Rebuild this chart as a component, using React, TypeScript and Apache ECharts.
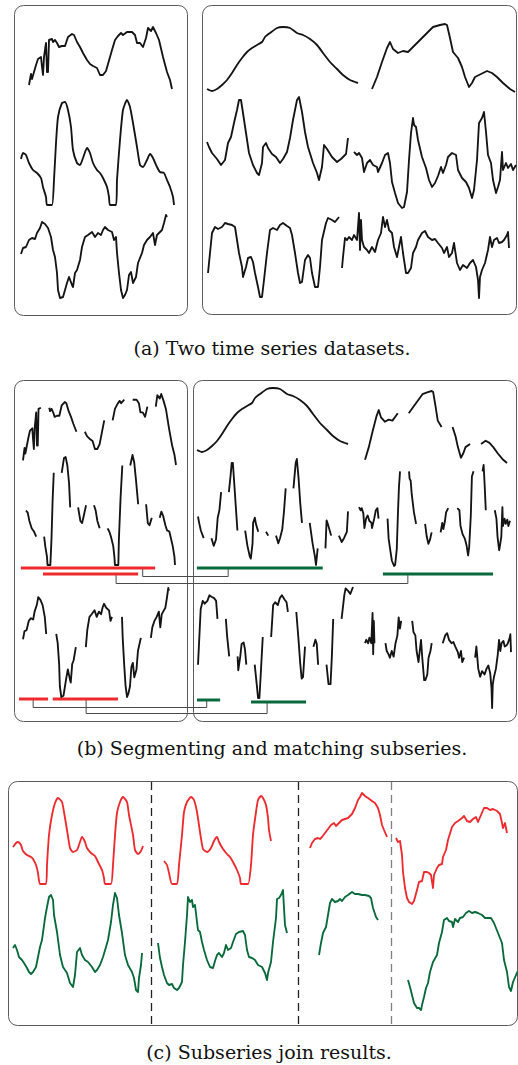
import React, { useEffect, useRef } from "react";
import * as echarts from "echarts";

type Pt = [number, number];

// ---------- left dataset (time index, value) ----------
const A1: Pt[] = [[1,7],[3,18],[4,13],[6,20],[8,27],[10,33],[13,35],[14,25],[15,17],[16,35],[18,49],[19,20],[20,20],[21,52],[24,53],[25,50],[27,52],[29,49],[31,45],[34,46],[37,46],[40,55],[44,58],[46,57],[49,50],[52,45],[55,39],[59,32],[62,28],[65,26],[69,24],[72,17],[75,17],[78,21],[80,28],[84,42],[87,52],[90,56],[93,59],[95,57],[99,60],[104,60],[107,57],[109,49],[112,49],[115,45],[118,54],[120,64],[123,61],[125,65],[128,59],[131,52],[135,35],[139,20],[142,12],[144,3]];
const A2: Pt[] = [[0,47],[2,53],[5,51],[8,43],[12,36],[16,33],[20,28],[22,19],[25,9],[26,1],[31,1],[33,26],[35,63],[37,89],[41,103],[44,104],[47,96],[50,79],[52,56],[56,43],[59,41],[62,48],[66,58],[69,53],[72,43],[76,36],[79,33],[82,28],[86,19],[88,9],[89,1],[95,1],[96,26],[99,66],[102,96],[106,106],[109,99],[112,83],[116,59],[119,41],[122,39],[126,46],[129,52],[132,48],[136,39],[139,34],[143,33],[146,26],[149,19],[152,9],[153,1]];
const A3: Pt[] = [[0,46],[2,52],[5,53],[8,60],[11,62],[14,61],[16,67],[19,72],[21,78],[24,76],[27,72],[30,63],[32,50],[34,43],[36,27],[37,10],[39,2],[42,3],[44,10],[46,17],[48,23],[51,15],[52,13],[54,27],[56,30],[59,40],[61,53],[64,63],[67,65],[71,68],[74,63],[77,67],[80,65],[82,70],[84,73],[87,70],[91,68],[93,60],[95,63],[96,47],[98,27],[100,10],[102,2],[104,5],[106,10],[108,25],[110,28],[112,17],[115,23],[117,37],[121,47],[123,55],[126,60],[129,63],[132,67],[134,55],[136,65],[138,67],[141,70],[143,77],[145,85],[146,83]];

// ---------- right dataset ----------
const B1a: Pt[] = [[1,3],[6,1],[11,3],[16,7],[21,12],[26,19],[31,27],[36,34],[41,40],[46,44],[51,47],[56,50],[59,55],[64,59],[71,64],[77,65],[84,64],[91,59],[97,57],[104,53],[111,47],[117,39],[124,30],[131,23],[137,17],[144,12],[152,9]];
const B1b: Pt[] = [[0,3],[5,15],[10,30],[15,44],[18,50],[21,43],[26,39],[31,41],[36,40],[43,47],[50,54],[56,60],[61,65],[68,67],[73,68],[75,67],[78,54],[81,40],[86,34],[90,25],[93,15],[97,5],[100,9],[103,15],[109,18],[115,21],[120,19],[125,15],[131,9],[138,3],[143,0]];
const B2a: Pt[] = [[1,40],[3,35],[6,29],[11,23],[15,17],[19,22],[22,39],[25,45],[28,59],[31,72],[33,82],[35,82],[37,69],[40,49],[43,29],[47,17],[51,9],[53,7],[56,19],[57,35],[60,39],[62,34],[66,28],[70,25],[74,19],[77,23],[81,30],[84,44],[87,62],[91,82],[93,85],[96,70],[99,50],[102,35],[107,19],[111,9],[113,2],[116,15],[118,37],[121,33],[126,25],[131,20],[135,23],[140,28],[142,44]];
const B2b: Pt[] = [[0,58],[3,55],[5,57],[8,52],[10,38],[13,47],[16,50],[19,45],[23,43],[24,38],[28,47],[31,55],[34,57],[36,47],[38,28],[41,17],[44,7],[48,2],[50,3],[53,18],[55,50],[57,77],[59,92],[60,85],[62,83],[64,70],[68,53],[72,42],[75,30],[78,23],[81,27],[84,34],[87,43],[89,37],[92,45],[94,53],[98,57],[102,55],[104,40],[108,32],[112,28],[115,22],[118,12],[120,20],[123,50],[125,87],[128,92],[130,98],[132,78],[134,55],[137,47],[139,30],[142,17],[144,23],[146,30],[148,58],[149,40],[152,47],[154,42],[157,46],[159,40],[162,45]];
const B3a: Pt[] = [[0,27],[2,47],[4,67],[7,73],[10,71],[14,73],[17,77],[20,76],[24,75],[27,73],[29,60],[31,47],[34,33],[35,23],[38,33],[40,42],[43,43],[45,38],[47,27],[50,13],[52,3],[54,3],[56,20],[59,47],[62,70],[65,72],[69,70],[72,75],[75,77],[79,74],[82,72],[84,65],[87,47],[90,27],[92,17],[94,18],[97,40],[100,45],[102,42],[104,27],[107,13],[110,13],[112,33],[114,60],[118,77],[120,82],[124,80],[127,78],[131,83]];
const B3b: Pt[] = [[0,32],[1,43],[3,62],[5,60],[7,63],[10,60],[12,65],[15,60],[16,73],[17,87],[18,50],[19,80],[20,60],[22,53],[25,50],[27,47],[30,53],[33,48],[36,60],[39,67],[41,83],[43,73],[45,80],[47,70],[50,67],[52,53],[55,43],[57,53],[59,63],[61,47],[64,27],[66,27],[69,32],[71,47],[74,53],[76,60],[80,67],[83,69],[86,63],[90,60],[93,61],[96,57],[100,52],[102,47],[105,53],[107,43],[110,47],[112,57],[115,37],[118,30],[121,35],[125,32],[128,37],[131,40],[134,33],[136,20],[137,2],[138,23],[140,30],[143,37],[146,50],[148,63],[150,53],[152,60],[155,62],[157,57],[160,58],[162,60],[165,65],[166,68],[167,52]];

// ---------- join results ----------
const CR1: Pt[] = [[0,38],[3,42],[5,43],[8,40],[10,34],[14,30],[18,28],[20,26],[23,20],[25,12],[27,1],[33,1],[34,20],[36,50],[39,70],[42,82],[45,87],[49,83],[51,73],[54,55],[57,37],[60,33],[64,35],[67,43],[69,48],[72,43],[74,37],[78,32],[82,29],[85,23],[89,15],[91,7],[92,1],[98,1],[100,20],[102,50],[104,72],[107,83],[110,88],[114,83],[116,70],[120,50],[122,35],[125,31],[128,34],[130,39]];
const CR2: Pt[] = [[0,24],[3,20],[5,12],[8,1],[13,1],[15,20],[18,50],[20,73],[23,83],[27,88],[30,85],[33,73],[36,53],[39,36],[43,33],[47,37],[50,44],[53,48],[55,43],[59,36],[63,31],[66,28],[69,23],[73,15],[76,7],[77,1],[84,1],[87,20],[89,50],[92,73],[94,85],[97,89],[99,87],[102,80],[104,67],[105,55],[107,44]];
const CR3: Pt[] = [[0,37],[2,42],[5,46],[8,47],[10,46],[12,48],[15,52],[18,56],[21,60],[24,62],[26,59],[28,61],[32,65],[35,66],[38,67],[42,71],[45,77],[48,85],[50,88],[52,92],[55,89],[58,87],[62,84],[65,82],[68,77],[70,70],[72,60],[74,55],[77,48]];
const CR4: Pt[] = [[0,67],[2,63],[4,64],[6,50],[7,33],[9,17],[11,7],[13,3],[16,1],[18,4],[21,15],[23,23],[26,24],[28,33],[31,33],[33,32],[35,30],[37,17],[38,30],[41,37],[43,40],[46,41],[47,48],[50,55],[52,65],[56,78],[59,82],[62,84],[66,87],[68,89],[71,84],[74,83],[77,86],[80,88],[82,83],[85,90],[88,97],[91,97],[94,95],[97,96],[101,94],[104,91],[106,82],[107,77],[109,82],[111,72]];
const CG1: Pt[] = [[0,47],[2,50],[4,45],[6,38],[9,35],[11,32],[14,27],[16,23],[18,21],[20,23],[23,28],[25,38],[27,48],[29,55],[32,77],[34,88],[36,98],[38,100],[40,95],[41,80],[44,63],[47,40],[50,28],[54,22],[57,12],[60,8],[62,20],[64,43],[67,47],[69,40],[72,35],[75,33],[79,28],[82,23],[84,25],[87,30],[90,38],[93,48],[95,55],[98,73],[100,90],[102,102],[104,97],[106,80],[109,62],[112,40],[115,30],[119,23],[121,17],[123,5],[125,3],[126,17],[128,30],[129,42]];
const CG2: Pt[] = [[0,52],[2,37],[4,28],[6,20],[9,12],[11,10],[14,11],[16,7],[19,5],[21,7],[24,13],[25,30],[27,53],[29,80],[30,98],[32,93],[34,95],[35,88],[37,90],[39,73],[40,65],[42,63],[44,53],[46,45],[49,35],[52,28],[55,27],[57,34],[59,40],[61,42],[64,38],[66,42],[68,50],[70,45],[73,47],[75,53],[78,61],[81,63],[85,64],[87,60],[89,45],[91,38],[94,37],[97,35],[100,30],[104,28],[107,22],[109,15],[110,22],[113,33],[115,53],[118,77],[119,96],[121,97],[123,100],[125,105],[126,87],[127,70],[129,62]];
const CG3: Pt[] = [[0,5],[2,17],[4,27],[7,33],[9,45],[11,57],[13,61],[16,58],[19,59],[21,61],[23,59],[26,63],[29,65],[33,68],[36,66],[39,66],[43,65],[46,65],[50,64],[52,62],[54,52],[57,43],[59,40]];
const CG4: Pt[] = [[0,32],[2,25],[4,17],[6,9],[9,4],[11,4],[13,2],[14,7],[16,15],[18,24],[20,29],[22,40],[25,50],[29,57],[31,69],[34,80],[36,92],[39,94],[41,91],[44,90],[45,85],[47,93],[50,90],[52,94],[55,95],[58,99],[61,101],[64,99],[67,100],[70,99],[74,97],[77,94],[80,94],[83,94],[86,89],[90,79],[94,69],[96,52],[99,40],[101,25],[103,21],[105,30],[108,37],[110,41]];

// segmentation cut points (time index) used in panel (b)
const CUTS_A1 = [24, 59, 84, 99, 118];
const CUTS_A2 = [20, 37, 52, 66, 76, 102, 116, 126];
const CUTS_A3 = [32, 59, 95, 121];
const CUTS_B1b = [43, 86, 109];
const CUTS_B2a = [11, 28, 43, 66, 70, 87, 102, 116, 126];
const CUTS_B2b = [36, 59, 72, 84, 98, 128, 134];
const CUTS_B3a = [29, 34, 47, 59, 84, 97, 104, 114];
const CUTS_B3b = [20, 45, 76, 110];

const CAPTIONS = [
  "(a) Two time series datasets.",
  "(b) Segmenting and matching subseries.",
  "(c) Subseries join results.",
];

// ---------- styles / layout ----------
const BLACK = "#141414";
const RED = "#ee2a2e";
const GREEN = "#08693a";
const FRAME = "#5a5a5a";

interface Sub {
  id: string;
  data: Pt[];
  box: [number, number, number, number];
  color: string;
  cuts?: number[];
  gap?: number;
  from?: number;
  smooth?: number;
}

const SUBS: Sub[] = [
  { id: "a-A1", data: A1, box: [29, 27, 172, 89], color: BLACK },
  { id: "a-A2", data: A2, box: [21, 100, 174, 205], color: BLACK, smooth: 0.2 },
  { id: "a-A3", data: A3, box: [21, 215, 167, 298], color: BLACK },
  { id: "a-B1a", data: B1a, box: [207, 27, 358, 91], color: BLACK, smooth: 0.2 },
  { id: "a-B1b", data: B1b, box: [372, 24, 515, 92], color: BLACK },
  { id: "a-B2a", data: B2a, box: [207, 97, 348, 180], color: BLACK },
  { id: "a-B2b", data: B2b, box: [354, 112, 516, 208], color: BLACK },
  { id: "a-B3a", data: B3a, box: [208, 217, 339, 297], color: BLACK },
  { id: "a-B3b", data: B3b, box: [342, 213, 509, 298], color: BLACK },

  { id: "b-A1", data: A1, box: [23, 394, 176, 465], color: BLACK, cuts: CUTS_A1, gap: 10.8 },
  { id: "b-A2", data: A2, box: [26, 455, 175, 565], color: BLACK, cuts: CUTS_A2, gap: 14, from: 2 },
  { id: "b-A3", data: A3, box: [23, 588, 169, 697], color: BLACK, cuts: CUTS_A3, gap: 13.8 },
  { id: "b-B1a", data: B1a, box: [197, 388, 348, 452], color: BLACK, smooth: 0.2 },
  { id: "b-B1b", data: B1b, box: [365, 391, 507, 463], color: BLACK, cuts: CUTS_B1b, gap: 14.4 },
  { id: "b-B2a", data: B2a, box: [198, 459, 348, 565], color: BLACK, cuts: CUTS_B2a, gap: 13.6 },
  { id: "b-B2b", data: B2b, box: [359, 465, 510, 566], color: BLACK, cuts: CUTS_B2b, gap: 16.6 },
  { id: "b-B3a", data: B3a, box: [198, 587, 353, 698], color: BLACK, cuts: CUTS_B3a, gap: 12.5 },
  { id: "b-B3b", data: B3b, box: [365, 613, 511, 708], color: BLACK, cuts: CUTS_B3b, gap: 17.5, from: 5 },

  { id: "c-R1", data: CR1, box: [13, 797, 143, 884], color: RED, smooth: 0.2 },
  { id: "c-R2", data: CR2, box: [164, 796, 271, 884], color: RED, smooth: 0.2 },
  { id: "c-R3", data: CR3, box: [310, 793, 387, 848], color: RED },
  { id: "c-R4", data: CR4, box: [396, 808, 507, 904], color: RED },
  { id: "c-G1", data: CG1, box: [13, 893, 142, 992], color: GREEN },
  { id: "c-G2", data: CG2, box: [158, 890, 287, 990], color: GREEN },
  { id: "c-G3", data: CG3, box: [319, 892, 378, 955], color: GREEN },
  { id: "c-G4", data: CG4, box: [408, 911, 518, 1010], color: GREEN },
];

// matched subseries (ranges in the panel-(b) axis units)
const MATCHES = [
  { red: "b-A2", rRange: [-7, 230], rAttach: 208, rOff: 3, green: "b-B2a", gRange: [-1, 220], gAttach: 54, gOff: 3, drop: 8 },
  { red: "b-A2", rRange: [32, 200], rAttach: 161, rOff: 9, green: "b-B2b", gRange: [44, 247], gAttach: 90, gOff: 8, drop: 9 },
  { red: "b-A3", rRange: [-5.5, 34.5], rAttach: 14, rOff: 2, green: "b-B3a", gRange: [-1.5, 33], gAttach: 13, gOff: 2, drop: 8 },
  { red: "b-A3", rRange: [41, 131], rAttach: 87, rOff: 2, green: "b-B3a", gRange: [79, 161], gAttach: 103, gOff: 4, drop: 14 },
];

const FRAMES: [number, number, number, number][] = [
  [14, 5, 173, 310],
  [202, 5, 314, 309],
  [14, 380, 173, 341],
  [193, 380, 323, 341],
  [8, 781, 509, 244],
];
const DASHED = [
  { x: 151, color: "#222" },
  { x: 298, color: "#222" },
  { x: 391, color: "#808080" },
];
const CAPTION_POS = [
  [272, 348],
  [272, 748],
  [269, 1052],
];

function layout(s: Sub) {
  const from = s.from ?? s.data[0][0];
  const cuts = s.cuts ?? [];
  const gap = s.gap ?? 0;
  const out: (number | null)[][] = [];
  let k = 0;
  for (const [t, v] of s.data) {
    if (t < from) continue;
    while (k < cuts.length && t > cuts[k]) {
      out.push([cuts[k] + k * gap + gap / 2, null]);
      k++;
    }
    out.push([t + k * gap, v]);
    if (k < cuts.length && t === cuts[k]) {
      out.push([t + k * gap + gap / 2, null]);
      k++;
      out.push([t + k * gap, v]);
    }
  }
  const vs = s.data.map((p) => p[1]);
  return {
    data: out,
    xMin: from,
    xMax: s.data[s.data.length - 1][0] + cuts.length * gap,
    yMin: Math.min(...vs),
    yMax: Math.max(...vs),
  };
}

export default function App() {
  const ref = useRef<HTMLDivElement>(null);
  useEffect(() => {
    if (!ref.current) return;
    const chart = echarts.init(ref.current, undefined, { renderer: "svg" });
    const L = SUBS.map(layout);
    chart.setOption({
      animation: false,
      backgroundColor: "#ffffff",
      grid: SUBS.map((s) => ({
        left: s.box[0],
        top: s.box[1],
        width: s.box[2] - s.box[0],
        height: s.box[3] - s.box[1],
        show: false,
      })),
      xAxis: SUBS.map((s, i) => ({ type: "value", gridIndex: i, min: L[i].xMin, max: L[i].xMax, show: false })),
      yAxis: SUBS.map((s, i) => ({ type: "value", gridIndex: i, min: L[i].yMin, max: L[i].yMax, show: false })),
      series: SUBS.map((s, i) => ({
        type: "line",
        name: s.id,
        xAxisIndex: i,
        yAxisIndex: i,
        data: L[i].data,
        symbol: "none",
        showSymbol: false,
        connectNulls: false,
        clip: false,
        silent: true,
        smooth: s.smooth ?? false,
        z: 5,
        lineStyle: { color: s.color, width: 1.85, join: "round" },
      })),
    });

    const idx = (id: string) => SUBS.findIndex((s) => s.id === id);
    const px = (id: string, x: number) => {
      const i = idx(id);
      return chart.convertToPixel({ gridIndex: i }, [x, L[i].yMin]) as number[];
    };

    const elements: any[] = [];
    FRAMES.forEach(([x, y, w, h]) =>
      elements.push({
        type: "rect",
        shape: { x: x + 0.5, y: y + 0.5, width: w, height: h, r: 9 },
        style: { fill: "none", stroke: FRAME, lineWidth: 1 },
        z: 1,
      })
    );
    DASHED.forEach((d) =>
      elements.push({
        type: "line",
        shape: { x1: d.x + 0.5, y1: 782, x2: d.x + 0.5, y2: 1025 },
        style: { stroke: d.color, lineWidth: 1.3, lineDash: [8, 5] },
        z: 1,
      })
    );
    MATCHES.forEach((m) => {
      const r0 = px(m.red, m.rRange[0]);
      const r1 = px(m.red, m.rRange[1]);
      const ra = px(m.red, m.rAttach);
      const g0 = px(m.green, m.gRange[0]);
      const g1 = px(m.green, m.gRange[1]);
      const ga = px(m.green, m.gAttach);
      const ry = Math.round(r0[1]) + m.rOff;
      const gy = Math.round(g0[1]) + m.gOff;
      const cy = ry + m.drop + 0.5;
      elements.push({
        type: "polyline",
        shape: { points: [[ra[0], ry], [ra[0], cy], [ga[0], cy], [ga[0], gy]] },
        style: { fill: "none", stroke: "#4a4a4a", lineWidth: 1 },
        z: 2,
      });
      elements.push({
        type: "line",
        shape: { x1: r0[0], y1: ry, x2: r1[0], y2: ry },
        style: { stroke: RED, lineWidth: 3 },
        z: 3,
      });
      elements.push({
        type: "line",
        shape: { x1: g0[0], y1: gy, x2: g1[0], y2: gy },
        style: { stroke: GREEN, lineWidth: 3 },
        z: 3,
      });
    });
    CAPTIONS.forEach((t, i) =>
      elements.push({
        type: "text",
        x: CAPTION_POS[i][0],
        y: CAPTION_POS[i][1],
        style: {
          text: t,
          fontFamily: "DejaVu Serif",
          fontSize: 19,
          fill: "#111",
          textAlign: "center",
          textVerticalAlign: "middle",
        },
        z: 4,
      })
    );
    chart.setOption({ graphic: { elements } });
    return () => chart.dispose();
  }, []);
  return (
    <div
      ref={ref}
      style={{ position: "absolute", left: 0, top: 0, width: 518, height: 1065, background: "#fff" }}
    />
  );
}
